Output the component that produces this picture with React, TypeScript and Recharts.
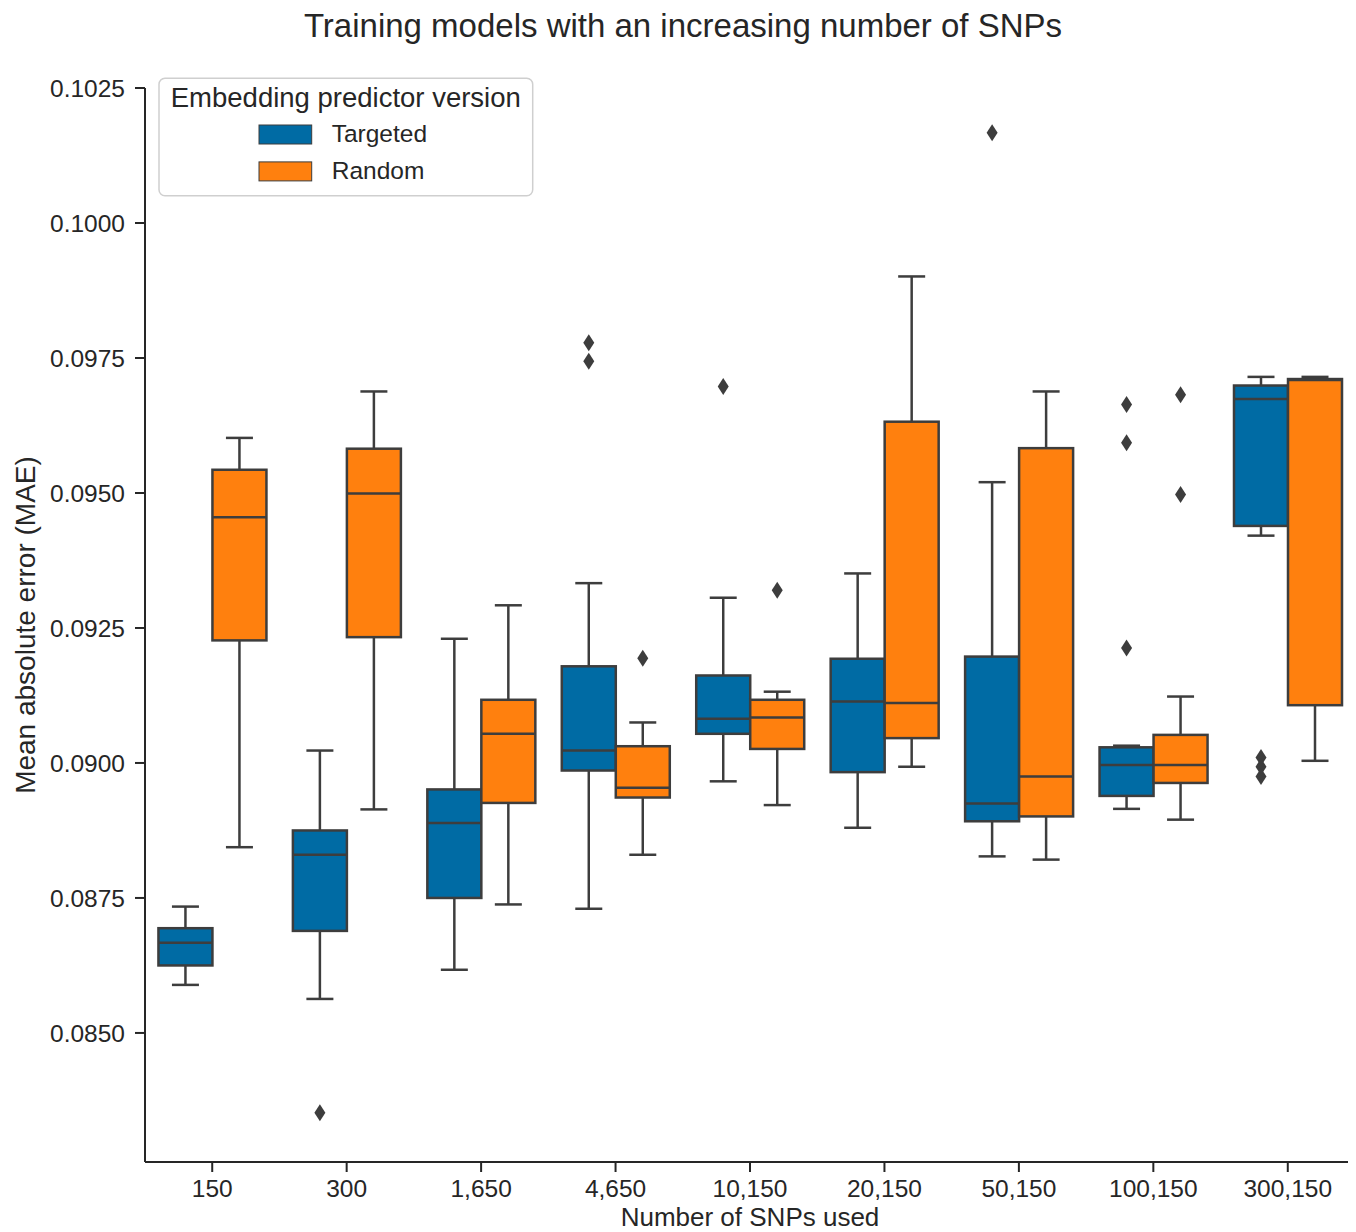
import React from 'react';
import { ComposedChart, Bar, XAxis, YAxis } from 'recharts';

// ---------- data ----------
const CATEGORIES = ['150', '300', '1,650', '4,650', '10,150', '20,150', '50,150', '100,150', '300,150'];

const SERIES_NAMES = ['Targeted', 'Random'];
const SERIES_COLORS = ['#006BA4', '#FF800E'];

const Y_TICKS = [0.085, 0.0875, 0.09, 0.0925, 0.095, 0.0975, 0.1, 0.1025];

// Targeted
const TARGETED_LOWER_WHISKER = [0.08589, 0.08563, 0.08617, 0.0873, 0.08966, 0.0888, 0.08827, 0.08915, 0.09421];
const TARGETED_Q1 = [0.08625, 0.08689, 0.0875, 0.08986, 0.09054, 0.08983, 0.08892, 0.08939, 0.09439];
const TARGETED_MEDIAN = [0.08667, 0.0883, 0.08889, 0.09023, 0.09082, 0.09114, 0.08925, 0.08996, 0.09674];
const TARGETED_Q3 = [0.08694, 0.08875, 0.08951, 0.09179, 0.09162, 0.09193, 0.09197, 0.09029, 0.09699];
const TARGETED_UPPER_WHISKER = [0.08734, 0.09023, 0.0923, 0.09333, 0.09306, 0.09351, 0.0952, 0.09032, 0.09715];
const TARGETED_OUTLIERS = [[], [0.08352], [], [0.09778, 0.09744], [0.09697], [], [0.10167], [0.09664, 0.09593, 0.09213], [0.0901, 0.08993, 0.08975]];

// Random
const RANDOM_LOWER_WHISKER = [0.08844, 0.08914, 0.08738, 0.0883, 0.08922, 0.08993, 0.08821, 0.08895, 0.09004];
const RANDOM_Q1 = [0.09227, 0.09233, 0.08926, 0.08936, 0.09026, 0.09046, 0.08901, 0.08963, 0.09107];
const RANDOM_MEDIAN = [0.09455, 0.09499, 0.09054, 0.08954, 0.09084, 0.09111, 0.08975, 0.08996, 0.09709];
const RANDOM_Q3 = [0.09543, 0.09582, 0.09117, 0.09031, 0.09117, 0.09632, 0.09583, 0.09052, 0.09711];
const RANDOM_UPPER_WHISKER = [0.09602, 0.09688, 0.09292, 0.09075, 0.09132, 0.09901, 0.09688, 0.09123, 0.09715];
const RANDOM_OUTLIERS = [[], [], [], [0.09194], [0.0932], [], [], [0.09682, 0.09497], []];

// ---------- chart table ----------
const data = CATEGORIES.map((cat, i) => ({
  cat,
  targetedBox: [TARGETED_Q1[i], TARGETED_Q3[i]],
  randomBox: [RANDOM_Q1[i], RANDOM_Q3[i]],
  targeted: {
    lo: TARGETED_LOWER_WHISKER[i],
    q1: TARGETED_Q1[i],
    med: TARGETED_MEDIAN[i],
    q3: TARGETED_Q3[i],
    hi: TARGETED_UPPER_WHISKER[i],
    out: TARGETED_OUTLIERS[i],
  },
  random: {
    lo: RANDOM_LOWER_WHISKER[i],
    q1: RANDOM_Q1[i],
    med: RANDOM_MEDIAN[i],
    q3: RANDOM_Q3[i],
    hi: RANDOM_UPPER_WHISKER[i],
    out: RANDOM_OUTLIERS[i],
  },
}));

// ---------- styling ----------
const FONT = "'Liberation Sans', Arial, Helvetica, sans-serif";
const LINE = '#3d3d3d';
const LW = 2.5;
const AXIS = '#262626';
const W = 1348;
const H = 1224;

const diamond = (cx: number, cy: number) =>
  `M${cx},${cy - 8.5} L${cx + 5.5},${cy} L${cx},${cy + 8.5} L${cx - 5.5},${cy} Z`;

function makeBoxShape(statsKey: string, fill: string) {
  return function BoxShape(props: any) {
    const { x, y, width, height, payload } = props;
    const s = payload && payload[statsKey];
    if (!s || !(height > 0)) return <g />;
    const k = height / (s.q3 - s.q1);
    const py = (v: number) => y + (s.q3 - v) * k;
    const cx = x + width / 2;
    const cap = width / 4;
    return (
      <g>
        <line x1={cx} x2={cx} y1={py(s.hi)} y2={y} stroke={LINE} strokeWidth={LW} />
        <line x1={cx} x2={cx} y1={y + height} y2={py(s.lo)} stroke={LINE} strokeWidth={LW} />
        <line x1={cx - cap} x2={cx + cap} y1={py(s.hi)} y2={py(s.hi)} stroke={LINE} strokeWidth={LW} />
        <line x1={cx - cap} x2={cx + cap} y1={py(s.lo)} y2={py(s.lo)} stroke={LINE} strokeWidth={LW} />
        <rect x={x} y={y} width={width} height={height} fill={fill} stroke={LINE} strokeWidth={LW} />
        <line x1={x} x2={x + width} y1={py(s.med)} y2={py(s.med)} stroke={LINE} strokeWidth={LW} />
        {s.out.map((v: number, j: number) => (
          <path key={j} d={diamond(cx, py(v))} fill={LINE} />
        ))}
      </g>
    );
  };
}

const TargetedShape = makeBoxShape('targeted', SERIES_COLORS[0]);
const RandomShape = makeBoxShape('random', SERIES_COLORS[1]);

const YLabel = (props: any) => {
  const vb = props.viewBox || { x: 0, y: 80, width: 137, height: 1074 };
  const cx = vb.x + 27;
  const cy = vb.y + vb.height / 2;
  return (
    <text
      x={cx}
      y={cy}
      transform={`rotate(-90 ${cx} ${cy})`}
      textAnchor="middle"
      fontSize={28}
      fontFamily={FONT}
      fill={AXIS}
    >
      Mean absolute error (MAE)
    </text>
  );
};

const XLabel = (props: any) => {
  const vb = props.viewBox || { x: 137, y: 1154, width: 1210, height: 70 };
  return (
    <text
      x={vb.x + vb.width / 2}
      y={vb.y + 64}
      textAnchor="middle"
      fontSize={26}
      fontFamily={FONT}
      fill={AXIS}
    >
      Number of SNPs used
    </text>
  );
};

const Overlay = () => {
  const lx = 151;
  const ly = 70.3;
  return (
    <svg
      width={W}
      height={H}
      style={{ position: 'absolute', left: 0, top: 0, pointerEvents: 'none' }}
    >
      <text x={675} y={28.8} textAnchor="middle" fontSize={33} fontFamily={FONT} fill={AXIS}>
        Training models with an increasing number of SNPs
      </text>
      <rect x={lx} y={ly} width={373.7} height={117.4} rx={6} ry={6} fill="#ffffff" fillOpacity={0.85} stroke="#cfcfcf" strokeWidth={1.5} />
      <text x={lx + 186.8} y={ly + 28.4} textAnchor="middle" fontSize={27.5} fontFamily={FONT} fill={AXIS}>
        Embedding predictor version
      </text>
      {SERIES_NAMES.map((name, i) => (
        <g key={name}>
          <rect x={lx + 100} y={ly + 46.7 + i * 36.9} width={52.7} height={19} fill={SERIES_COLORS[i]} stroke={LINE} strokeWidth={1} />
          <text x={lx + 172.7} y={ly + 63.4 + i * 37.1} fontSize={24.5} fontFamily={FONT} fill={AXIS}>
            {name}
          </text>
        </g>
      ))}
    </svg>
  );
};

export default function App() {
  return (
    <div style={{ position: 'relative', width: W, height: H, background: '#ffffff' }}>
      <ComposedChart
        width={W}
        height={H}
        data={data}
        margin={{ top: 80, right: 1, bottom: 0, left: 0 }}
        barCategoryGap="10%"
        barGap={0}
      >
        <XAxis
          dataKey="cat"
          type="category"
          interval={0}
          height={70}
          tickSize={10}
          tickMargin={8}
          axisLine={{ stroke: AXIS, strokeWidth: 2 }}
          tickLine={{ stroke: AXIS, strokeWidth: 2 }}
          tick={{ fontSize: 24.5, fontFamily: FONT, fill: AXIS }}
          label={<XLabel />}
        />
        <YAxis
          type="number"
          width={137}
          domain={[0.08261, 0.1025]}
          allowDataOverflow
          ticks={Y_TICKS}
          interval={0}
          tickFormatter={(v: number) => v.toFixed(4)}
          tickSize={10}
          tickMargin={10}
          axisLine={{ stroke: AXIS, strokeWidth: 2 }}
          tickLine={{ stroke: AXIS, strokeWidth: 2 }}
          tick={{ fontSize: 24.5, fontFamily: FONT, fill: AXIS }}
          label={<YLabel />}
        />
        <Bar
          dataKey="targetedBox"
          name={SERIES_NAMES[0]}
          fill={SERIES_COLORS[0]}
          shape={TargetedShape}
          isAnimationActive={false}
        />
        <Bar
          dataKey="randomBox"
          name={SERIES_NAMES[1]}
          fill={SERIES_COLORS[1]}
          shape={RandomShape}
          isAnimationActive={false}
        />
      </ComposedChart>
      <Overlay />
    </div>
  );
}
